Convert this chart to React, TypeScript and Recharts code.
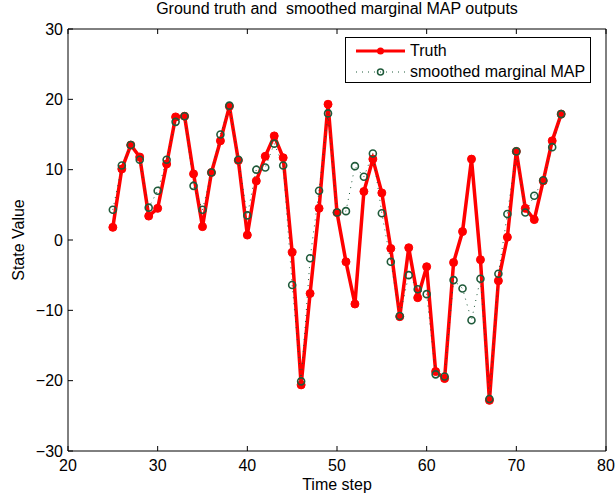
import {
  LineChart,
  Line,
  XAxis,
  YAxis,
  Label,
} from "recharts";

const timeSteps = [
  25, 26, 27, 28, 29, 30, 31, 32, 33, 34, 35, 36, 37, 38, 39, 40, 41, 42, 43, 44, 45, 46, 47, 48, 49, 50,
  51, 52, 53, 54, 55, 56, 57, 58, 59, 60, 61, 62, 63, 64, 65, 66, 67, 68, 69, 70, 71, 72, 73, 74, 75,
];

const truth = [
  1.8, 10.1, 13.5, 11.8, 3.4, 4.5, 10.8, 17.5, 17.6, 9.4, 1.9, 9.6, 14.1, 19.0, 11.3, 0.7, 8.4, 11.9, 14.8,
  11.7, -1.75, -20.6, -7.6, 4.5, 19.3, 3.9, -3.1, -9.1, 6.9, 11.5, 6.7, -1.2, -10.9, -1.1, -8.2, -3.8, -18.7,
  -19.7, -3.2, 1.2, 11.5, -2.8, -22.8, -5.8, 0.4, 12.6, 4.5, 2.9, 8.4, 14.1, 17.9,
];

const smoothedMap = [
  4.3, 10.6, 13.5, 11.4, 4.6, 7.0, 11.4, 16.8, 17.6, 7.7, 4.3, 9.6, 15.0, 19.1, 11.4, 3.5, 10.0, 10.3, 13.7,
  10.6, -6.4, -20.1, -2.6, 7.0, 18.0, 3.9, 4.1, 10.5, 9.0, 12.3, 3.8, -3.1, -10.8, -5.0, -7.0, -7.7, -19.1,
  -19.4, -5.7, -6.9, -11.4, -5.5, -22.6, -4.8, 3.7, 12.6, 3.9, 6.3, 8.5, 13.2, 17.9,
];

const xTicks = [20, 30, 40, 50, 60, 70, 80];
const yTicks = [-30, -20, -10, 0, 10, 20, 30];

const data = timeSteps.map((t, i) => ({ t, truth: truth[i], map: smoothedMap[i] }));

const FONT = "'Liberation Sans', Arial, Helvetica, sans-serif";
const FS = 16;
const RED = "#ff0000";
const GREEN = "#1f5a3a";
const TICK = 5;

const fmt = (v: number) => (v < 0 ? `\u2212${Math.abs(v)}` : `${v}`);

// MATLAB style ticks: pointing into the plot box
const LeftTick = (props: any) => {
  const { x, y, payload } = props;
  return (
    <g>
      <line x1={x} y1={y} x2={x + TICK} y2={y} stroke="#000" />
      <text x={x - 5} y={y} dy={5.5} textAnchor="end" fontSize={FS} fontFamily={FONT} fill="#000">
        {fmt(payload.value)}
      </text>
    </g>
  );
};

const RightTick = (props: any) => {
  const { x, y } = props;
  return <line x1={x} y1={y} x2={x - TICK} y2={y} stroke="#000" />;
};

const BottomTick = (props: any) => {
  const { x, y, payload } = props;
  return (
    <g>
      <line x1={x} y1={y} x2={x} y2={y - TICK} stroke="#000" />
      <text x={x} y={y} dy={20} textAnchor="middle" fontSize={FS} fontFamily={FONT} fill="#000">
        {payload.value}
      </text>
    </g>
  );
};

const TopTick = (props: any) => {
  const { x, y } = props;
  return <line x1={x} y1={y} x2={x} y2={y + TICK} stroke="#000" />;
};

const HollowDot = (props: any) => {
  const { cx, cy } = props;
  if (cx == null || cy == null) return null;
  return <circle cx={cx} cy={cy} r={3.5} fill="none" stroke={GREEN} strokeWidth={1.6} />;
};

const LegendBox = () => (
  <div
    style={{
      position: "absolute",
      left: 345,
      top: 37,
      border: "1px solid #000",
      background: "#fff",
      width: 246,
      height: 46,
      fontFamily: FONT,
      fontSize: FS,
      color: "#000",
      boxSizing: "border-box",
    }}
  >
    <div style={{ display: "flex", alignItems: "center", height: 21, marginTop: 2 }}>
      <svg width={64} height={12}>
        <line x1={10} y1={6} x2={59} y2={6} stroke={RED} strokeWidth={3} />
        <circle cx={34.5} cy={6} r={3.5} fill={RED} />
      </svg>
      <span>Truth</span>
    </div>
    <div style={{ display: "flex", alignItems: "center", height: 21 }}>
      <svg width={64} height={12}>
        <line x1={10} y1={6} x2={59} y2={6} stroke={GREEN} strokeWidth={1} strokeDasharray="1 5" />
        <circle cx={34.5} cy={6} r={3} fill="none" stroke={GREEN} strokeWidth={1.5} />
      </svg>
      <span>smoothed marginal MAP</span>
    </div>
  </div>
);

const App: React.FC = () => {
  return (
    <div style={{ position: "absolute", left: 0, top: 0, width: 615, height: 497, background: "#fff" }}>
      <div
        style={{
          position: "absolute",
          top: 0,
          left: 68,
          width: 538,
          textAlign: "center",
          fontFamily: FONT,
          fontSize: FS,
          whiteSpace: "pre",
        }}
      >
        Ground truth and  smoothed marginal MAP outputs
      </div>
      <LineChart
        width={615}
        height={497}
        data={data}
        margin={{ top: 28, right: 8, left: 8, bottom: 16 }}
      >
        <XAxis
          xAxisId="bottom"
          dataKey="t"
          type="number"
          domain={[20, 80]}
          ticks={xTicks}
          height={30}
          tickSize={0}
          tickMargin={0}
          tickLine={false}
          tick={<BottomTick />}
          axisLine={{ stroke: "#000" }}
        >
          <Label
            content={({ viewBox }: any) => (
              <text
                x={viewBox.x + viewBox.width / 2}
                y={viewBox.y + 39}
                textAnchor="middle"
                fontSize={FS}
                fontFamily={FONT}
                fill="#000"
              >
                Time step
              </text>
            )}
          />
        </XAxis>
        <XAxis
          xAxisId="top"
          orientation="top"
          dataKey="t"
          type="number"
          domain={[20, 80]}
          ticks={xTicks}
          height={1}
          tickSize={0}
          tickMargin={0}
          tickLine={false}
          tick={<TopTick />}
          axisLine={{ stroke: "#000" }}
        />
        <YAxis
          yAxisId="left"
          type="number"
          domain={[-30, 30]}
          ticks={yTicks}
          width={60}
          tickSize={0}
          tickMargin={0}
          tickLine={false}
          tick={<LeftTick />}
          axisLine={{ stroke: "#000" }}
        >
          <Label
            content={({ viewBox }: any) => {
              const lx = viewBox.x + 16;
              const ly = viewBox.y + viewBox.height / 2;
              return (
                <text
                  x={lx}
                  y={ly}
                  transform={`rotate(-90, ${lx}, ${ly})`}
                  textAnchor="middle"
                  fontSize={FS}
                  fontFamily={FONT}
                  fill="#000"
                >
                  State Value
                </text>
              );
            }}
          />
        </YAxis>
        <YAxis
          yAxisId="right"
          orientation="right"
          type="number"
          domain={[-30, 30]}
          ticks={yTicks}
          width={1}
          tickSize={0}
          tickMargin={0}
          tickLine={false}
          tick={<RightTick />}
          axisLine={{ stroke: "#000" }}
        />
        <Line
          xAxisId="bottom"
          yAxisId="left"
          dataKey="truth"
          name="Truth"
          stroke={RED}
          strokeWidth={3.5}
          dot={{ r: 4, fill: RED, stroke: RED, strokeWidth: 1 }}
          activeDot={false}
          isAnimationActive={false}
        />
        <Line
          xAxisId="bottom"
          yAxisId="left"
          dataKey="map"
          name="smoothed marginal MAP"
          stroke={GREEN}
          strokeWidth={1}
          strokeDasharray="1 5"
          dot={<HollowDot />}
          activeDot={false}
          isAnimationActive={false}
        />
      </LineChart>
      <LegendBox />
    </div>
  );
};

export default App;
